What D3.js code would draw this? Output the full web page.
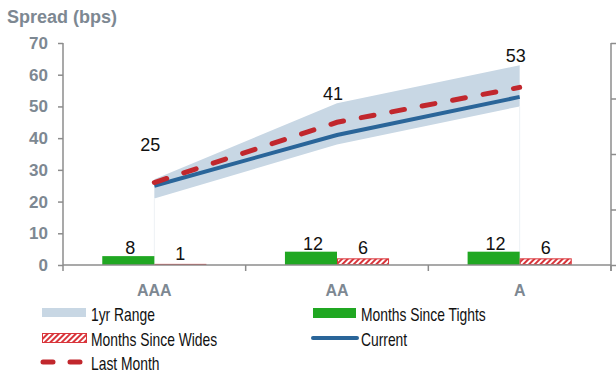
<!DOCTYPE html>
<html>
<head>
<meta charset="utf-8">
<script src="https://cdn.jsdelivr.net/npm/d3@7/dist/d3.min.js"></script>
<style>
  html, body { margin: 0; padding: 0; background: #fff; }
  svg { display: block; }
  .tick-label { font-family: "Liberation Sans", Arial, sans-serif; font-weight: bold; font-size: 17px; fill: #7d8892; }
  .data-label { font-family: "Liberation Sans", Arial, sans-serif; font-size: 18px; fill: #111; }
  .legend-label { font-family: "Liberation Sans", Arial, sans-serif; font-size: 18px; fill: #111; }
</style>
</head>
<body>
<svg id="chart" width="616" height="376"></svg>
<script>
// Rating buckets and spread statistics (bps)
const categories = ["AAA", "AA", "A"];
const current = [25, 41, 53];
const lastMonth = [26, 45, 56];
const rangeLow = [21, 38, 50];
const rangeHigh = [27, 51, 63];
// Months since the 1yr tight / wide (secondary axis)
const monthsTights = [8, 12, 12];
const monthsWides = [1, 6, 6];
// Axis ticks
const spreadTicks = [0, 10, 20, 30, 40, 50, 60, 70];
const monthTicks = [0, 50, 100, 150, 200];

const colors = {
  range: "#c8d7e4",
  current: "#2a6599",
  last: "#c1272d",
  tights: "#20a722",
  wides: "#d9353b",
  axis: "#8c8c8c",
  text: "#7d8892"
};

const svg = d3.select("#chart");
const m = { left: 63, right: 611, top: 43, bottom: 265 };

const x = d3.scaleBand().domain(categories).range([m.left, m.right]).padding(0);
const y = d3.scaleLinear().domain([0, 70]).range([m.bottom, m.top]);
const y2 = d3.scaleLinear().domain([0, 200]).range([m.bottom, m.top]);
const cx = c => x(c) + x.bandwidth() / 2;
const barW = x.bandwidth() * 0.285;

// Hatch pattern for "Months Since Wides"
const defs = svg.append("defs");
const pat = defs.append("pattern")
  .attr("id", "hatch").attr("patternUnits", "userSpaceOnUse")
  .attr("width", 4).attr("height", 4)
  .attr("patternTransform", "rotate(45)");
pat.append("rect").attr("width", 4).attr("height", 4).attr("fill", "#fff");
pat.append("rect").attr("width", 2).attr("height", 4).attr("fill", colors.wides);

const rows = categories.map((c, i) => ({
  c, cur: current[i], last: lastMonth[i], lo: rangeLow[i], hi: rangeHigh[i],
  tights: monthsTights[i], wides: monthsWides[i]
}));

// 1yr range band
svg.append("path")
  .datum(rows)
  .attr("fill", colors.range)
  .attr("d", d3.area().x(d => cx(d.c)).y0(d => y(d.lo)).y1(d => y(d.hi)));

// faint drop edges of the band
[rows[0], rows[rows.length - 1]].forEach(d => {
  svg.append("line")
    .attr("x1", cx(d.c)).attr("x2", cx(d.c))
    .attr("y1", y(d.lo)).attr("y2", y(0))
    .attr("stroke", "#edf1f5").attr("stroke-width", 1);
});

// Bars on the secondary axis
svg.append("g").selectAll("rect").data(rows).join("rect")
  .attr("x", d => cx(d.c) - barW)
  .attr("width", barW)
  .attr("y", d => y2(d.tights))
  .attr("height", d => y2(0) - y2(d.tights))
  .attr("fill", colors.tights);

svg.append("g").selectAll("rect").data(rows).join("rect")
  .attr("x", d => cx(d.c) + 0.5)
  .attr("width", barW - 1)
  .attr("y", d => y2(d.wides) + 0.5)
  .attr("height", d => Math.max(0, y2(0) - y2(d.wides) - 1))
  .attr("fill", "url(#hatch)")
  .attr("stroke", colors.wides)
  .attr("stroke-width", 1);

// Lines
svg.append("path")
  .datum(rows)
  .attr("fill", "none")
  .attr("stroke", colors.current)
  .attr("stroke-width", 4)
  .attr("d", d3.line().x(d => cx(d.c)).y(d => y(d.cur)));

svg.append("path")
  .datum(rows)
  .attr("fill", "none")
  .attr("stroke", colors.last)
  .attr("stroke-width", 5)
  .attr("stroke-linecap", "round")
  .attr("stroke-dasharray", "13,18")
  .attr("d", d3.line().x(d => cx(d.c)).y(d => y(d.last)));

// Axes
const axisG = svg.append("g");
const leftAxis = axisG.append("g")
  .attr("transform", `translate(${m.left},0)`)
  .call(d3.axisLeft(y).tickValues(spreadTicks).tickSize(5).tickPadding(10));
const rightAxis = axisG.append("g")
  .attr("transform", `translate(${m.right},0)`)
  .call(d3.axisRight(y2).tickValues(monthTicks).tickSize(6).tickFormat(""));
const bottomAxis = axisG.append("g")
  .attr("transform", `translate(0,${m.bottom})`)
  .call(d3.axisBottom(x).tickSize(0).tickPadding(20));

[leftAxis, rightAxis, bottomAxis].forEach(g => {
  g.select(".domain").attr("stroke", colors.axis).attr("stroke-width", 1.5);
  g.selectAll(".tick line").attr("stroke", colors.axis).attr("stroke-width", 1.5);
  g.selectAll(".tick text").attr("class", "tick-label").attr("fill", null);
});
bottomAxis.selectAll(".tick text").style("font-size", "16px");
leftAxis.select(".domain").attr("d", `M0,${m.top}V${m.bottom}`);
rightAxis.select(".domain").attr("d", `M0,${m.top}V${m.bottom + 6}`);
bottomAxis.select(".domain").attr("d", `M${m.left},0H${m.right}`);

// category boundary ticks on the x axis
const bounds = categories.map(c => x(c)).concat([x(categories[categories.length - 1]) + x.bandwidth()]);
bottomAxis.selectAll("line.bound").data(bounds).join("line")
  .attr("class", "bound")
  .attr("x1", d => d).attr("x2", d => d)
  .attr("y1", 0).attr("y2", 6)
  .attr("stroke", colors.axis).attr("stroke-width", 1.5);

// Axis title
svg.append("text")
  .attr("class", "tick-label")
  .attr("x", 7).attr("y", 23)
  .style("font-size", "18px")
  .text("Spread (bps)");

// Value labels
svg.append("g").selectAll("text").data(rows).join("text")
  .attr("class", "data-label")
  .attr("text-anchor", "middle")
  .attr("x", d => cx(d.c) - 4)
  .attr("y", d => y(d.cur + 11))
  .text(d => d.cur);

svg.append("g").selectAll("text").data(rows).join("text")
  .attr("class", "data-label")
  .attr("text-anchor", "middle")
  .attr("x", d => cx(d.c) - barW / 2 + 2)
  .attr("y", d => y2(d.tights) - 2)
  .text(d => d.tights);

svg.append("g").selectAll("text").data(rows).join("text")
  .attr("class", "data-label")
  .attr("text-anchor", "middle")
  .attr("x", d => cx(d.c) + barW / 2)
  .attr("y", d => y2(d.wides) - 4)
  .text(d => d.wides);

// Legend
const legend = svg.append("g");
const items = [
  { label: "1yr Range", col: 0, row: 0, kind: "range" },
  { label: "Months Since Tights", col: 1, row: 0, kind: "tights" },
  { label: "Months Since Wides", col: 0, row: 1, kind: "wides" },
  { label: "Current", col: 1, row: 1, kind: "current" },
  { label: "Last Month", col: 0, row: 2, kind: "last" }
];
const colX = [42, 312];
const rowY = [313, 338, 362];
items.forEach(it => {
  const g = legend.append("g").attr("transform", `translate(${colX[it.col]},${rowY[it.row]})`);
  if (it.kind === "range") {
    g.append("rect").attr("x", 0).attr("y", -5).attr("width", 44).attr("height", 9).attr("fill", colors.range);
  } else if (it.kind === "tights") {
    g.append("rect").attr("x", 1).attr("y", -5).attr("width", 43).attr("height", 10).attr("fill", colors.tights);
  } else if (it.kind === "wides") {
    g.append("rect").attr("x", 0.5).attr("y", -4.5).attr("width", 44).attr("height", 9)
      .attr("fill", "url(#hatch)").attr("stroke", colors.wides).attr("stroke-width", 1);
  } else if (it.kind === "current") {
    g.append("line").attr("x1", 1).attr("x2", 45).attr("y1", 0).attr("y2", 0)
      .attr("stroke", colors.current).attr("stroke-width", 4).attr("stroke-linecap", "round");
  } else if (it.kind === "last") {
    g.append("line").attr("x1", 1).attr("x2", 41).attr("y1", 0).attr("y2", 0)
      .attr("stroke", colors.last).attr("stroke-width", 5).attr("stroke-linecap", "round")
      .attr("stroke-dasharray", "10,17");
  }
  // condensed legend text
  g.append("text").attr("class", "legend-label")
    .attr("transform", "translate(49,8) scale(0.77,1)")
    .text(it.label);
});
</script>
</body>
</html>
